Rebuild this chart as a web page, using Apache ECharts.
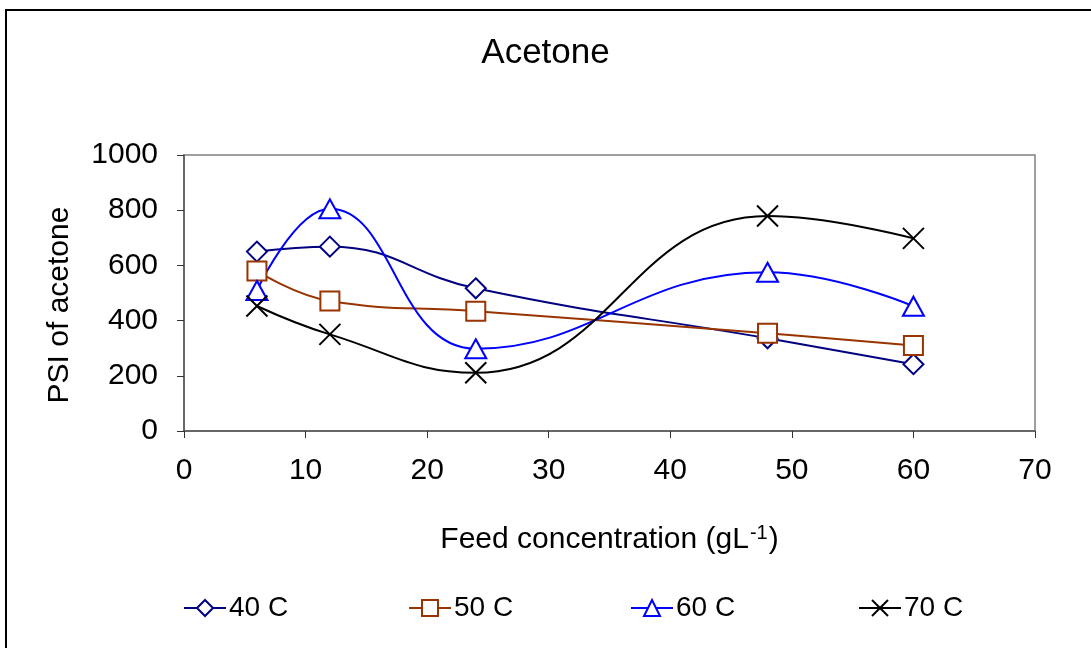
<!DOCTYPE html>
<html>
<head>
<meta charset="utf-8">
<title>Acetone</title>
<script src="https://cdn.jsdelivr.net/npm/echarts@6/dist/echarts.min.js"></script>
<style>
  html, body { margin: 0; padding: 0; background: #fff; }
  #chart { width: 1091px; height: 648px; }
</style>
</head>
<body>
<div id="chart"></div>
<script>
// Feed concentration (g/L) at which each temperature was measured
const feedConc = [6, 12, 24, 48, 60];

// PSI of acetone per temperature
const psi40 = [650, 668, 517, 336, 242];
const psi50 = [580, 471, 434, 354, 310];
const psi60 = [509, 805, 298, 575, 452];
const psi70 = [453, 350, 211, 779, 698];

const seriesNames = ['40 C', '50 C', '60 C', '70 C'];

const FONT = 'Liberation Sans, Arial, sans-serif';
const CROSS = 'path://M0,0L20,20M20,0L0,20';

function pairs(ys) {
  return feedConc.map((x, i) => [x, ys[i]]);
}

function makeSeries(name, ys, color, symbol, size, fill) {
  return {
    name: name,
    type: 'line',
    data: pairs(ys),
    smooth: 0.45,
    symbol: symbol,
    symbolSize: size,
    showAllSymbol: true,
    lineStyle: { color: color, width: 2 },
    itemStyle: { color: fill, borderColor: color, borderWidth: 2 },
    emphasis: { disabled: true },
    z: 3
  };
}

// one legend block per series so each entry sits at its own spot
const legendLefts = [183, 408, 630, 858];
const legends = seriesNames.map((name, i) => ({
  left: legendLefts[i],
  top: 594,
  padding: 0,
  itemWidth: 42,
  itemHeight: 20,
  textStyle: { fontFamily: FONT, fontSize: 28, color: '#000', padding: [0, 0, 0, -2] },
  data: [name]
}));

const chart = echarts.init(document.getElementById('chart'), null, { renderer: 'canvas' });

chart.setOption({
  animation: false,
  backgroundColor: '#fff',
  title: {
    text: 'Acetone',
    left: 'center',
    top: 31,
    textStyle: { fontFamily: FONT, fontSize: 35, fontWeight: 'normal', color: '#000' }
  },
  legend: legends,
  grid: {
    left: 184,
    right: 56,
    top: 155,
    bottom: 217,
    show: true,
    borderColor: '#808080',
    borderWidth: 1.5,
    containLabel: false
  },
  xAxis: {
    type: 'value',
    min: 0,
    max: 70,
    interval: 10,
    name: 'Feed concentration (gL{sup|-1})',
    nameLocation: 'middle',
    nameGap: 92,
    nameTextStyle: {
      fontFamily: FONT,
      fontSize: 30,
      color: '#000',
      rich: {
        sup: { fontFamily: FONT, fontSize: 20, color: '#000', verticalAlign: 'top', padding: [0, 1, 14, 1] }
      }
    },
    axisLine: { show: true, onZero: false, lineStyle: { color: '#555', width: 1.5 } },
    axisTick: { show: true, inside: false, length: 7, lineStyle: { color: '#333', width: 1 } },
    axisLabel: { fontFamily: FONT, fontSize: 30, color: '#000', margin: 25 },
    splitLine: { show: false }
  },
  yAxis: {
    type: 'value',
    min: 0,
    max: 1000,
    interval: 200,
    axisLine: { show: true, onZero: false, lineStyle: { color: '#555', width: 1.5 } },
    axisTick: { show: true, inside: false, length: 7, lineStyle: { color: '#333', width: 1 } },
    axisLabel: { fontFamily: FONT, fontSize: 30, color: '#000', margin: 26, formatter: v => String(v) },
    splitLine: { show: false }
  },
  graphic: [
    {
      type: 'rect',
      shape: { x: 6, y: 10, width: 1200, height: 800 },
      style: { fill: 'none', stroke: '#000', lineWidth: 2 },
      silent: true,
      z: 0
    },
    {
      type: 'text',
      x: 60,
      y: 305,
      rotation: Math.PI / 2,
      style: {
        text: 'PSI of acetone',
        fontFamily: FONT,
        fontSize: 30,
        fill: '#000',
        align: 'center',
        verticalAlign: 'middle'
      },
      silent: true
    }
  ],
  series: [
    makeSeries(seriesNames[0], psi40, '#000080', 'diamond', [20, 20], '#fff'),
    makeSeries(seriesNames[1], psi50, '#993300', 'rect', 19, '#fff'),
    makeSeries(seriesNames[2], psi60, '#0000ff', 'triangle', [21, 19], '#fff'),
    makeSeries(seriesNames[3], psi70, '#000000', CROSS, 21, '#000')
  ]
});
</script>
</body>
</html>
